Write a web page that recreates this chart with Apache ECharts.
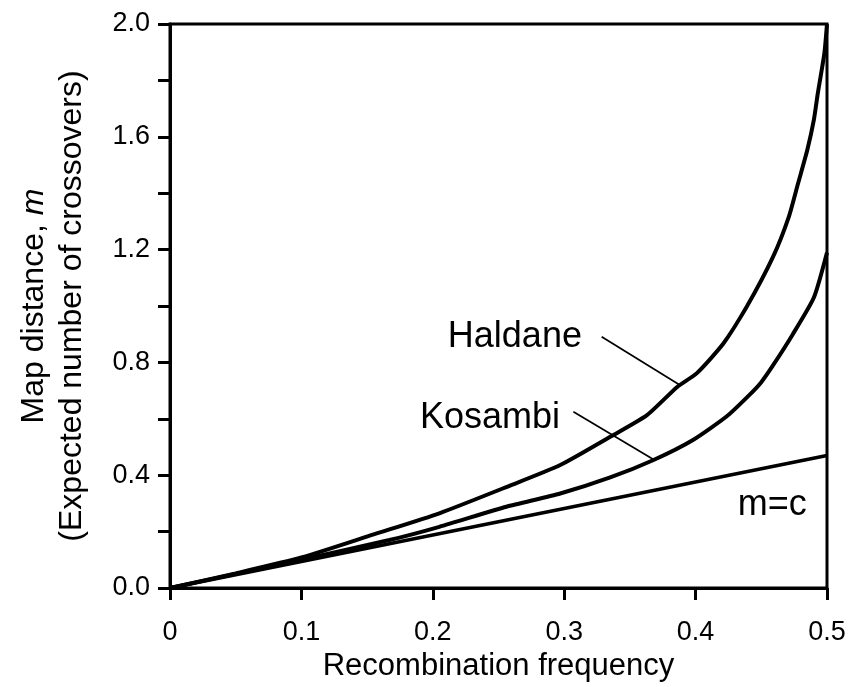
<!DOCTYPE html>
<html>
<head>
<meta charset="utf-8">
<title>Map distance vs recombination frequency</title>
<script src="https://cdn.jsdelivr.net/npm/echarts@6/dist/echarts.min.js"></script>
<style>
  html, body { margin: 0; padding: 0; background: #fff; }
  #chart { width: 849px; height: 687px; }
</style>
</head>
<body>
<div id="chart"></div>
<script>
// Recombination frequency c and map distance m for each mapping function
const haldane = [
  [0, 0], [0.05, 0.052], [0.1, 0.108], [0.155, 0.19], [0.205, 0.265],
  [0.256, 0.358], [0.297, 0.436], [0.335, 0.536], [0.363, 0.613],
  [0.386, 0.713], [0.401, 0.762], [0.421, 0.866], [0.439, 0.998],
  [0.459, 1.175], [0.471, 1.317], [0.478, 1.435], [0.485, 1.553],
  [0.490, 1.66], [0.493, 1.754], [0.498, 1.896], [0.5, 2.0]
];
const kosambi = [
  [0, 0], [0.05, 0.05], [0.1, 0.1], [0.167, 0.17], [0.205, 0.217],
  [0.256, 0.288], [0.297, 0.335], [0.335, 0.392], [0.368, 0.454],
  [0.398, 0.525], [0.424, 0.61], [0.441, 0.685], [0.45, 0.73],
  [0.459, 0.79], [0.474, 0.9], [0.49, 1.03], [0.5, 1.19]
];
const mEqualsC = [[0, 0], [0.5, 0.47]];

// Axis tick labels
const xTickLabels = ['0', '0.1', '0.2', '0.3', '0.4', '0.5'];
const yTickLabels = ['0.0', '0.4', '0.8', '1.2', '1.6', '2.0'];

// Curve labels: text and anchor point
const curveLabels = [
  { name: 'Haldane', value: [0.3135, 0.89], side: 'left' },
  { name: 'Kosambi', value: [0.2968, 0.603], side: 'left' },
  { name: 'm=c', value: [0.432, 0.294], side: 'right' }
];
// Leader lines from label to curve
const haldaneLeader = [[0.3285, 0.891], [0.388, 0.72]];
const kosambiLeader = [[0.307, 0.625], [0.368, 0.456]];

const FONT = 'Liberation Sans, Arial, Helvetica, sans-serif';

const chart = echarts.init(document.getElementById('chart'), null, { renderer: 'canvas' });

function curve(data, width) {
  return {
    type: 'line', data: data, showSymbol: false, silent: true,
    smooth: 0.2,
    lineStyle: { color: '#000', width: width }, z: 3
  };
}
function leader(data) {
  return {
    type: 'line', data: data, showSymbol: false, silent: true,
    lineStyle: { color: '#000', width: 1.7 }, z: 2
  };
}

chart.setOption({
  animation: false,
  backgroundColor: '#fff',
  grid: {
    left: 170, right: 22, top: 24, bottom: 99,
    show: true, borderColor: '#000', borderWidth: 3, backgroundColor: 'transparent'
  },
  xAxis: {
    type: 'value', min: 0, max: 0.5, interval: 0.1,
    name: 'Recombination frequency',
    nameLocation: 'middle', nameGap: 62,
    nameTextStyle: { fontFamily: FONT, fontSize: 31, color: '#000' },
    axisLine: { show: true, lineStyle: { color: '#000', width: 3 } },
    axisTick: { show: true, inside: false, length: 12, lineStyle: { color: '#000', width: 3 } },
    axisLabel: {
      margin: 31, fontFamily: FONT, fontSize: 27, color: '#000',
      formatter: function (v) { return xTickLabels[Math.round(v * 10)]; }
    },
    splitLine: { show: false }
  },
  yAxis: {
    type: 'value', min: 0, max: 2, interval: 0.2,
    name: '{t|Map distance, }{i|m}\n{t|(Expected number of crossovers)}',
    nameLocation: 'middle', nameRotate: 90, nameGap: 79,
    nameTextStyle: {
      fontFamily: FONT, fontSize: 32, color: '#000', lineHeight: 38,
      rich: {
        t: { fontFamily: FONT, fontSize: 32, color: '#000', lineHeight: 38 },
        i: { fontFamily: FONT, fontSize: 32, color: '#000', fontStyle: 'italic', lineHeight: 38 }
      }
    },
    axisLine: { show: true, lineStyle: { color: '#000', width: 3 } },
    axisTick: { show: true, inside: false, length: 12, lineStyle: { color: '#000', width: 3 } },
    axisLabel: {
      margin: 20, fontFamily: FONT, fontSize: 27, color: '#000',
      formatter: function (v) {
        const k = Math.round(v * 5);
        return k % 2 === 0 ? yTickLabels[k / 2] : '';
      }
    },
    splitLine: { show: false }
  },
  series: [
    curve(haldane, 4),
    curve(kosambi, 4),
    curve(mEqualsC, 3.5),
    leader(haldaneLeader),
    leader(kosambiLeader),
    {
      type: 'scatter', silent: true, symbolSize: 0, z: 4,
      itemStyle: { opacity: 1 },
      data: curveLabels.map(function (d) {
        return {
          name: d.name, value: d.value,
          label: {
            show: true, position: d.side, distance: 0,
            formatter: '{b}', fontFamily: FONT, fontSize: 36, color: '#000'
          }
        };
      })
    }
  ]
});
</script>
</body>
</html>
